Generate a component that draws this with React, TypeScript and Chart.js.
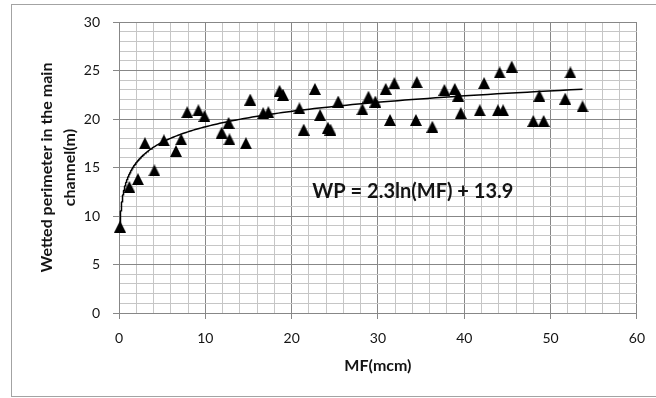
import React, { useEffect, useRef } from "react";
import { Chart, registerables } from "chart.js";

Chart.register(...registerables);

const mfValues = [0.12, 1.2, 2.2, 3.0, 4.1, 5.2, 6.6, 7.2, 7.9, 9.2, 9.9, 11.9, 12.8, 12.7, 14.7, 15.2, 16.7, 17.3, 18.6, 19.0, 20.9, 21.4, 22.7, 23.3, 24.2, 24.5, 25.4, 28.2, 28.9, 29.7, 30.9, 31.4, 31.9, 34.4, 34.5, 36.3, 37.7, 38.9, 39.3, 39.6, 41.8, 42.3, 43.9, 44.1, 44.5, 45.5, 48.0, 48.7, 49.2, 51.7, 52.3, 53.7];
const wpValues = [8.9, 13.0, 13.8, 17.5, 14.7, 17.8, 16.7, 17.9, 20.7, 20.9, 20.3, 18.6, 17.9, 19.6, 17.5, 22.0, 20.6, 20.7, 22.9, 22.5, 21.1, 18.9, 23.1, 20.4, 19.1, 18.9, 21.8, 21.0, 22.3, 21.8, 23.1, 19.9, 23.7, 19.9, 23.8, 19.2, 23.0, 23.1, 22.4, 20.6, 20.9, 23.7, 20.9, 24.8, 20.9, 25.4, 19.8, 22.4, 19.8, 22.1, 24.8, 21.3];

// Displayed trendline: WP = 2.3 ln(MF) + 13.9
const trendA = 2.3;
const trendB = 13.9;
const equationText = "WP = 2.3ln(MF) + 13.9";

const xTitle = "MF(mcm)";
const yTitle = ["Wetted perimeter in the main", "channel(m)"];

const FONT = "Lato, 'Open Sans', sans-serif";
const MAJOR = "#878787";
const MINOR = "#c6c6c6";
const TEXT = "#141414";

function makeTriangle(): HTMLCanvasElement {
  const c = document.createElement("canvas");
  c.width = 12;
  c.height = 12;
  const g = c.getContext("2d")!;
  g.fillStyle = "#000";
  g.beginPath();
  g.moveTo(6, 0);
  g.lineTo(12, 12);
  g.lineTo(0, 12);
  g.closePath();
  g.fill();
  return c;
}

export default function App() {
  const ref = useRef<HTMLCanvasElement | null>(null);

  useEffect(() => {
    document.body.style.margin = "0";
    const canvas = ref.current;
    if (!canvas) return;

    const minX = Math.min(...mfValues);
    const maxX = Math.max(...mfValues);
    const trend: { x: number; y: number }[] = [];
    const n = 240;
    for (let i = 0; i <= n; i++) {
      const x = minX * Math.pow(maxX / minX, i / n);
      trend.push({ x, y: trendA * Math.log(x) + trendB });
    }

    const tri = makeTriangle();

    const decor = {
      id: "decor",
      beforeDraw(chart: any) {
        const { ctx } = chart;
        ctx.save();
        ctx.fillStyle = "#ffffff";
        ctx.fillRect(0, 0, chart.width, chart.height);
        ctx.strokeStyle = "#a3a3a3";
        ctx.lineWidth = 1;
        ctx.strokeRect(11.5, 4.5, 700, 392);
        ctx.restore();
      },
      afterDatasetsDraw(chart: any) {
        const { ctx, scales } = chart;
        ctx.save();
        ctx.font = `bold 20px ${FONT}`;
        ctx.fillStyle = TEXT;
        ctx.textAlign = "left";
        ctx.textBaseline = "middle";
        ctx.fillText(equationText, scales.x.getPixelForValue(22.4), scales.y.getPixelForValue(12.5));
        ctx.restore();
      },
    };

    const chart = new Chart(canvas, {
      type: "scatter",
      data: {
        datasets: [
          {
            label: "WP",
            data: mfValues.map((x, i) => ({ x, y: wpValues[i] })),
            pointStyle: tri as any,
            pointRadius: 6,
            showLine: false,
            clip: false,
          },
          {
            label: "trend",
            data: trend,
            showLine: true,
            pointRadius: 0,
            borderColor: "#000000",
            borderWidth: 1.5,
            fill: false,
          },
        ],
      },
      options: {
        responsive: false,
        animation: false,
        devicePixelRatio: 1,
        layout: { padding: { top: 22, right: 18, bottom: 0, left: 0 } },
        plugins: { legend: { display: false }, tooltip: { enabled: false } },
        scales: {
          x: {
            type: "linear",
            min: 0,
            max: 60,
            afterFit: (s: any) => {
              s.height = 85;
            },
            border: { color: MAJOR, width: 1 },
            grid: {
              color: (c: any) => (c.tick && c.tick.value % 10 === 0 ? MAJOR : MINOR),
              tickColor: (c: any) => (c.tick && c.tick.value % 10 === 0 ? MAJOR : "rgba(0,0,0,0)"),
              tickLength: 6,
            },
            ticks: {
              stepSize: 2,
              autoSkip: false,
              maxRotation: 0,
              padding: 11,
              color: TEXT,
              font: { family: FONT, size: 14 },
              callback: (v: any) => (Number(v) % 10 === 0 ? String(v) : ""),
            },
            title: {
              display: true,
              text: xTitle,
              color: TEXT,
              font: { family: FONT, size: 16, weight: "bold", lineHeight: 1.2 },
              padding: { top: 0, bottom: 23 },
            },
          },
          y: {
            type: "linear",
            min: 0,
            max: 30,
            afterFit: (s: any) => {
              s.width = 119;
            },
            border: { color: MAJOR, width: 1 },
            grid: {
              color: (c: any) => (c.tick && c.tick.value % 5 === 0 ? MAJOR : MINOR),
              tickColor: (c: any) => (c.tick && c.tick.value % 5 === 0 ? MAJOR : "rgba(0,0,0,0)"),
              tickLength: 6,
            },
            ticks: {
              stepSize: 1,
              autoSkip: false,
              padding: 13,
              color: TEXT,
              font: { family: FONT, size: 14 },
              callback: (v: any) => (Number(v) % 5 === 0 ? String(v) : ""),
            },
            title: {
              display: true,
              text: yTitle,
              color: TEXT,
              font: { family: FONT, size: 16, weight: "bold", lineHeight: "23px" },
              padding: { top: 35, bottom: 0 },
            },
          },
        },
      },
      plugins: [decor],
    });

    return () => chart.destroy();
  }, []);

  return (
    <div style={{ position: "fixed", left: 0, top: 0, width: 656, height: 398, background: "#fff" }}>
      <canvas ref={ref} width={656} height={398} style={{ display: "block", width: 656, height: 398 }} />
    </div>
  );
}
